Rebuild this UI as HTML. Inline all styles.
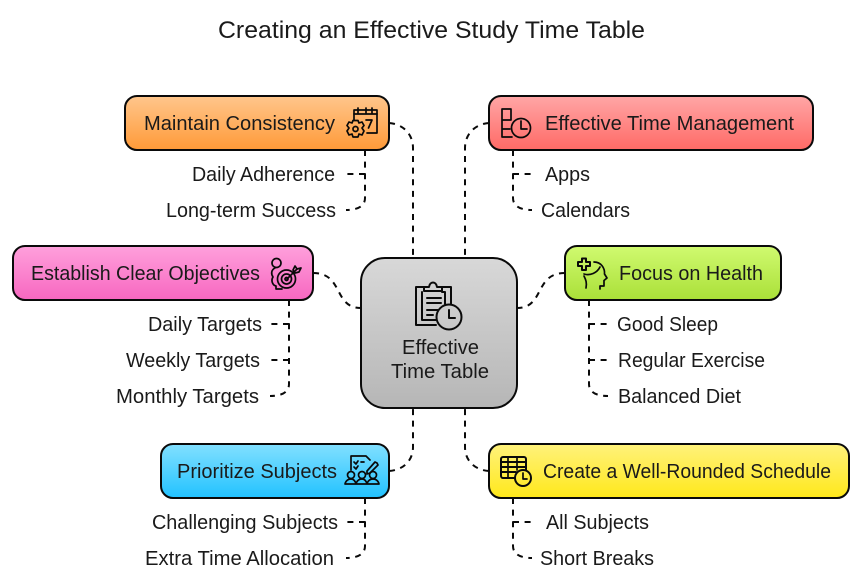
<!DOCTYPE html>
<html><head><meta charset="utf-8"><style>
html,body{margin:0;padding:0;background:#fff;width:862px;height:582px;overflow:hidden}
svg{display:block}
text{font-family:"Liberation Sans",sans-serif;font-size:20px;fill:#1a1a1a}
.b{stroke:#0a0a0a;stroke-width:2}
.c{fill:none;stroke:#0a0a0a;stroke-width:2;stroke-dasharray:6 5.6}
.i{fill:none;stroke:#0a0a0a;stroke-width:1.7;stroke-linejoin:round;stroke-linecap:round}
</style></head><body>
<svg width="862" height="582" viewBox="0 0 862 582" xmlns="http://www.w3.org/2000/svg">
<defs>
<linearGradient id="o" x1="0" y1="0" x2="0" y2="1"><stop offset="0" stop-color="#ffc68c"/><stop offset="1" stop-color="#ff9a38"/></linearGradient>
<linearGradient id="r" x1="0" y1="0" x2="0" y2="1"><stop offset="0" stop-color="#ffa6a6"/><stop offset="1" stop-color="#ff6a66"/></linearGradient>
<linearGradient id="p" x1="0" y1="0" x2="0" y2="1"><stop offset="0" stop-color="#ffa0dc"/><stop offset="1" stop-color="#f767c0"/></linearGradient>
<linearGradient id="g" x1="0" y1="0" x2="0" y2="1"><stop offset="0" stop-color="#d0fa70"/><stop offset="1" stop-color="#aae038"/></linearGradient>
<linearGradient id="u" x1="0" y1="0" x2="0" y2="1"><stop offset="0" stop-color="#82e0ff"/><stop offset="1" stop-color="#22c2ff"/></linearGradient>
<linearGradient id="y" x1="0" y1="0" x2="0" y2="1"><stop offset="0" stop-color="#fff27c"/><stop offset="1" stop-color="#ffe81a"/></linearGradient>
<linearGradient id="s" x1="0" y1="0" x2="0" y2="1"><stop offset="0" stop-color="#d8d8d8"/><stop offset="1" stop-color="#b6b6b6"/></linearGradient>
</defs>

<text x="218" y="38" style="font-size:24px" textLength="427" lengthAdjust="spacingAndGlyphs">Creating an Effective Study Time Table</text>

<!-- main connectors -->
<path class="c" d="M389 123C403 124 413 134 413 148V258"/>
<path class="c" d="M489 123C475 124 465 134 465 148V258"/>
<path class="c" d="M313 273C344 273 333 308 361 308"/>
<path class="c" d="M565 273C534 273 545 308 517 308"/>
<path class="c" d="M389 471C403 470 413 461 413 447V408"/>
<path class="c" d="M489 471C475 470 465 461 465 447V408"/>

<!-- sub connectors -->
<path class="c" d="M365 150V198C365 206 358 210 346 210"/><path class="c" d="M365 174H347"/>
<path class="c" d="M513 150V198C513 206 520 210 532 210"/><path class="c" d="M513 174H531"/>
<path class="c" d="M289 300V384C289 392 282 396 270 396"/><path class="c" d="M289 324H271"/><path class="c" d="M289 360H271"/>
<path class="c" d="M589 300V384C589 392 596 396 608 396"/><path class="c" d="M589 324H607"/><path class="c" d="M589 360H607"/>
<path class="c" d="M365 498V546C365 554 358 558 346 558"/><path class="c" d="M365 522H347"/>
<path class="c" d="M513 498V546C513 554 520 558 532 558"/><path class="c" d="M513 522H531"/>

<!-- boxes -->
<rect class="b" x="125" y="96" width="264" height="54" rx="12" fill="url(#o)"/>
<rect class="b" x="489" y="96" width="324" height="54" rx="12" fill="url(#r)"/>
<rect class="b" x="13" y="246" width="300" height="54" rx="12" fill="url(#p)"/>
<rect class="b" x="565" y="246" width="216" height="54" rx="12" fill="url(#g)"/>
<rect class="b" x="161" y="444" width="228" height="54" rx="12" fill="url(#u)"/>
<rect class="b" x="489" y="444" width="360" height="54" rx="12" fill="url(#y)"/>
<rect class="b" x="361" y="258" width="156" height="150" rx="24" fill="url(#s)"/>

<!-- box labels -->
<text x="144" y="130" textLength="191" lengthAdjust="spacingAndGlyphs">Maintain Consistency</text>
<text x="545" y="130" textLength="249" lengthAdjust="spacingAndGlyphs">Effective Time Management</text>
<text x="31" y="280" textLength="229" lengthAdjust="spacingAndGlyphs">Establish Clear Objectives</text>
<text x="619" y="280" textLength="144" lengthAdjust="spacingAndGlyphs">Focus on Health</text>
<text x="177" y="478" textLength="160" lengthAdjust="spacingAndGlyphs">Prioritize Subjects</text>
<text x="543" y="478" textLength="288" lengthAdjust="spacingAndGlyphs">Create a Well-Rounded Schedule</text>
<text x="402" y="354" textLength="77" lengthAdjust="spacingAndGlyphs">Effective</text>
<text x="391" y="378" textLength="98" lengthAdjust="spacingAndGlyphs">Time Table</text>

<!-- sub labels -->
<text x="192" y="181" textLength="143" lengthAdjust="spacingAndGlyphs">Daily Adherence</text>
<text x="166" y="217" textLength="170" lengthAdjust="spacingAndGlyphs">Long-term Success</text>
<text x="545" y="181" textLength="45" lengthAdjust="spacingAndGlyphs">Apps</text>
<text x="541" y="217" textLength="89" lengthAdjust="spacingAndGlyphs">Calendars</text>
<text x="148" y="331" textLength="114" lengthAdjust="spacingAndGlyphs">Daily Targets</text>
<text x="126" y="367" textLength="134" lengthAdjust="spacingAndGlyphs">Weekly Targets</text>
<text x="116" y="403" textLength="143" lengthAdjust="spacingAndGlyphs">Monthly Targets</text>
<text x="617" y="331" textLength="101" lengthAdjust="spacingAndGlyphs">Good Sleep</text>
<text x="618" y="367" textLength="147" lengthAdjust="spacingAndGlyphs">Regular Exercise</text>
<text x="618" y="403" textLength="123" lengthAdjust="spacingAndGlyphs">Balanced Diet</text>
<text x="152" y="529" textLength="186" lengthAdjust="spacingAndGlyphs">Challenging Subjects</text>
<text x="145" y="565" textLength="189" lengthAdjust="spacingAndGlyphs">Extra Time Allocation</text>
<text x="546" y="529" textLength="103" lengthAdjust="spacingAndGlyphs">All Subjects</text>
<text x="540" y="565" textLength="114" lengthAdjust="spacingAndGlyphs">Short Breaks</text>

<!-- center icon -->
<g class="i" style="stroke-width:2">
<path d="M424 287H416V325H436"/><path d="M422 292V320H436"/>
<path d="M424 291V287H429C430 281 436 281 437 287H442V291H424Z"/>
<path d="M442 287H451V304"/><path d="M442 292H445V304"/>
<path d="M427 298H441M427 303H441M427 310H438M427 315H433"/>
<circle cx="449" cy="317" r="12.500"/><path d="M449 310V318H455"/>
</g>

<!-- maintain icon -->
<g class="i">
<path d="M354 120V110H377V133H367"/><path d="M354 114H377"/><path d="M358 108V113M366 108V113M372 108V113"/>
<path d="M366 120H372L368.500 128"/>
<path d="M353 120.500H358L359 123L362 122L364 125.500L362 128L364 131L362 135L359 134L358 137H353L352 134L349 135L347 131L349 128L347 125.500L349 122L352 123Z"/>
<circle cx="355.500" cy="129" r="2.500"/>
</g>

<!-- time mgmt icon -->
<g class="i">
<path d="M502 109H511V120H502ZM502 120V137H512M502 129H510"/>
<circle cx="521" cy="128" r="9.500"/><path d="M521 121V129H527"/>
</g>

<!-- objectives icon -->
<g class="i">
<circle cx="276.500" cy="263" r="4.500"/>
<path d="M275 268C271 270 271 274 273 277C271 280 272 285 276 286L276 289H282"/>
<circle cx="286.500" cy="279" r="9"/><circle cx="286.500" cy="279" r="5"/><circle cx="286.500" cy="279" r="1.500"/>
<path d="M287 279L297 269"/><path d="M293 270L295 266L297 269L301 268L299 272L295 273Z"/>
</g>

<!-- health icon -->
<g class="i">
<path d="M582 258.500H586V262H590V266H586V270H582V266H578V262H582Z" style="stroke-width:2"/>
<path d="M594 262C601 262 605 268 604.500 274L607 278L604 280.500V286L600 286V289"/>
<path d="M584 274C590 276 597 273 600 267"/>
<path d="M584 276C586 280 587 283 586 288"/>
</g>

<!-- prioritize icon -->
<g class="i">
<path d="M351 470V456H366L370 460"/><path d="M354 462L356 464L358 461M354 467L356 469L358 466M361 462H364"/>
<path d="M367 471L375 462L377 463L378 465L370 473L367 474Z"/>
<circle cx="351" cy="475" r="3.500"/><circle cx="362" cy="475" r="3.500"/><circle cx="373" cy="475" r="3.500"/>
<path d="M345 484C346 480 349 479 351 479C353 479 355 480 356 484M356 484C357 480 360 479 362 479C364 479 366 480 367 484M367 484C368 480 371 479 373 479C375 479 378 480 379 484M345 484H379"/>
</g>

<!-- schedule icon -->
<g class="i">
<path d="M514 478H503C502 478 501 477 501 476V459C501 458 502 457 503 457H524C525 457 526 458 526 459V470" style="stroke-width:2"/>
<path d="M501 462H526M501 467H526M501 472H516" style="stroke-width:2"/>
<path d="M508 457V478M517 457V470"/>
<circle cx="523" cy="478" r="8" style="stroke-width:2"/>
<path d="M523 473V479H527"/>
</g>
</svg>
</body></html>
